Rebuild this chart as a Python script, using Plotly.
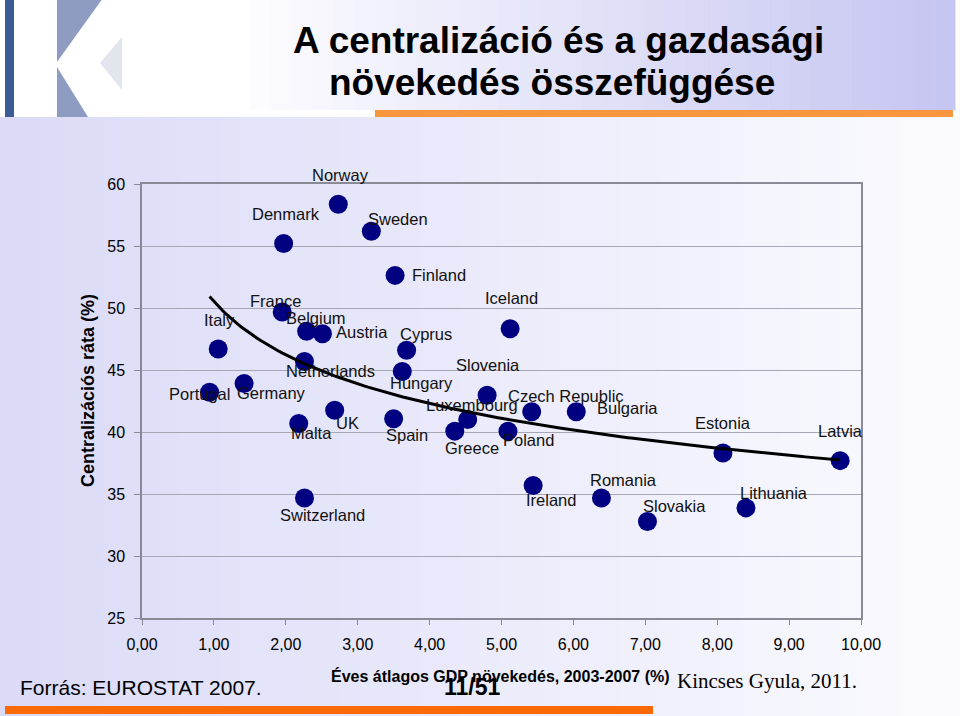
import numpy as np
import plotly.graph_objects as go

# ---------------- data ----------------
countries = ["Norway", "Denmark", "Sweden", "Finland", "France", "Belgium", "Austria",
             "Italy", "Cyprus", "Iceland", "Netherlands", "Hungary", "Slovenia", "Germany",
             "Portugal", "UK", "Malta", "Spain", "Luxembourg", "Greece", "Poland",
             "Switzerland", "Czech Republic", "Bulgaria", "Ireland", "Romania", "Slovakia",
             "Lithuania", "Estonia", "Latvia"]
gdp_growth = [2.73, 1.97, 3.19, 3.52, 1.95, 2.29, 2.51,
              1.06, 3.68, 5.12, 2.26, 3.62, 4.80, 1.42,
              0.94, 2.68, 2.18, 3.50, 4.53, 4.35, 5.09,
              2.26, 5.42, 6.04, 5.44, 6.39, 7.03,
              8.40, 8.08, 9.71]
centralization = [58.37, 55.20, 56.19, 52.63, 49.68, 48.12, 47.93,
                  46.70, 46.59, 48.33, 45.68, 44.88, 42.97, 43.91,
                  43.21, 41.76, 40.69, 41.07, 41.00, 40.07, 40.07,
                  34.68, 41.63, 41.63, 35.68, 34.68, 32.78,
                  33.88, 38.30, 37.69]

x_tick_vals = [0, 1, 2, 3, 4, 5, 6, 7, 8, 9, 10]
x_tick_text = ["0,00", "1,00", "2,00", "3,00", "4,00", "5,00", "6,00", "7,00", "8,00", "9,00", "10,00"]
y_tick_vals = [25, 30, 35, 40, 45, 50, 55, 60]

title_line1 = "A centralizáció és a gazdasági"
title_line2 = "növekedés összefüggése"
x_title = "Éves átlagos GDP növekedés, 2003-2007 (%)"
y_title = "Centralizációs ráta (%)"
source_text = "Forrás: EUROSTAT 2007."
page_text = "11/51"
author_text = "Kincses Gyula, 2011."

# label offsets in screen pixels (dx right, dy down) -- layout only
label_offsets = {
    "Norway": (2, -29), "Denmark": (2, -30), "Sweden": (27, -12), "Finland": (44, 0),
    "France": (-7, -11), "Belgium": (9, -13), "Austria": (40, -2), "Italy": (1, -29),
    "Cyprus": (19, -16), "Iceland": (1, -31), "Netherlands": (26, 9), "Hungary": (19, 12),
    "Slovenia": (1, -30), "Germany": (27, 9), "Portugal": (-10, 2), "UK": (13, 13),
    "Malta": (13, 10), "Spain": (13, 16), "Luxembourg": (4, -15), "Greece": (17, 17),
    "Poland": (21, 9), "Switzerland": (18, 17), "Czech Republic": (34, -16),
    "Bulgaria": (51, -4), "Ireland": (18, 14), "Romania": (22, -18), "Slovakia": (27, -16),
    "Lithuania": (28, -15), "Estonia": (0, -30), "Latvia": (0, -30),
}

# ---------------- geometry ----------------
W, H = 960, 716
L, R, T, B = 142, 99, 184, 98
PW, PH = W - L - R, H - T - B


def pxx(x):
    return (x - L) / PW


def pxy(y):
    return (H - B - y) / PH


def path(points):
    s = "M " + " L ".join(f"{pxx(a):.5f},{pxy(b):.5f}" for a, b in points) + " Z"
    return s


fig = go.Figure()

fig.add_trace(go.Scatter(
    x=gdp_growth, y=centralization, mode="markers",
    marker=dict(size=19, color="#000080"),
    hoverinfo="text", text=countries, showlegend=False,
))

# power trend line fitted to the data
gx = np.array(gdp_growth)
gy = np.array(centralization)
b_coef, ln_a = np.polyfit(np.log(gx), np.log(gy), 1)
xs = np.linspace(gx.min(), gx.max(), 200)
ys = np.exp(ln_a) * xs ** b_coef
fig.add_trace(go.Scatter(x=xs, y=ys, mode="lines", line=dict(color="black", width=3),
                         hoverinfo="skip", showlegend=False))

annotations = []
lab_font = dict(family="Liberation Sans, Arial, sans-serif", size=16.5, color="#111111")
for c, xv, yv in zip(countries, gdp_growth, centralization):
    dx, dy = label_offsets[c]
    annotations.append(dict(x=xv, y=yv, xref="x", yref="y", text=c, showarrow=False,
                            xshift=dx, yshift=-dy, font=lab_font,
                            xanchor="center", yanchor="middle"))

sans = "Liberation Sans, Arial, sans-serif"
annotations += [
    dict(x=pxx(558), y=pxy(40), xref="paper", yref="paper", text=f"<b>{title_line1}</b>",
         showarrow=False, font=dict(family=sans, size=37, color="black"),
         xanchor="center", yanchor="middle"),
    dict(x=pxx(552), y=pxy(83), xref="paper", yref="paper", text=f"<b>{title_line2}</b>",
         showarrow=False, font=dict(family=sans, size=37, color="black"),
         xanchor="center", yanchor="middle"),
    dict(x=pxx(500), y=pxy(676), xref="paper", yref="paper", text=f"<b>{x_title}</b>",
         showarrow=False, font=dict(family=sans, size=16, color="black"),
         xanchor="center", yanchor="middle"),
    dict(x=pxx(88), y=pxy(391), xref="paper", yref="paper", text=f"<b>{y_title}</b>",
         showarrow=False, textangle=-90, font=dict(family=sans, size=18, color="black"),
         xanchor="center", yanchor="middle"),
    dict(x=pxx(18), y=pxy(687), xref="paper", yref="paper", text=source_text,
         showarrow=False, font=dict(family=sans, size=21, color="black"),
         xanchor="left", yanchor="middle"),
    dict(x=pxx(472), y=pxy(687), xref="paper", yref="paper", text=f"<b>{page_text}</b>",
         showarrow=False, font=dict(family=sans, size=23, color="black"),
         xanchor="center", yanchor="middle"),
    dict(x=pxx(675), y=pxy(681), xref="paper", yref="paper", text=author_text,
         showarrow=False, font=dict(family="Liberation Serif, Times New Roman, serif", size=21,
                                    color="black"),
         xanchor="left", yanchor="middle"),
]

# ---------------- decorative background ----------------
shapes = []
N = 48
c0 = np.array([219, 219, 248])
c1 = np.array([251, 251, 255])
for i in range(N):
    t = i / (N - 1)
    col = (c0 + (c1 - c0) * t).astype(int)
    x0 = i * W / N
    x1 = (i + 1) * W / N + 0.5
    shapes.append(dict(type="rect", xref="paper", yref="paper", x0=pxx(x0), x1=pxx(x1),
                       y0=pxy(117), y1=pxy(H + 2), line=dict(width=0),
                       fillcolor=f"rgb({col[0]},{col[1]},{col[2]})", layer="below"))
# header gradient behind title
h0 = np.array([252, 252, 255])
h1 = np.array([198, 198, 242])
NH = 34
hx0, hx1 = 250, 955
for i in range(NH):
    t = i / (NH - 1)
    col = (h0 + (h1 - h0) * t).astype(int)
    x0 = hx0 + i * (hx1 - hx0) / NH
    x1 = hx0 + (i + 1) * (hx1 - hx0) / NH + 0.5
    shapes.append(dict(type="rect", xref="paper", yref="paper", x0=pxx(x0), x1=pxx(x1),
                       y0=pxy(110), y1=pxy(-2), line=dict(width=0),
                       fillcolor=f"rgb({col[0]},{col[1]},{col[2]})", layer="below"))
# orange rule under the title
shapes.append(dict(type="rect", xref="paper", yref="paper", x0=pxx(375), x1=pxx(953),
                   y0=pxy(117), y1=pxy(110), line=dict(width=0), fillcolor="#f7963c",
                   layer="below"))
# orange bar at bottom
shapes.append(dict(type="rect", xref="paper", yref="paper", x0=pxx(5), x1=pxx(653),
                   y0=pxy(714), y1=pxy(706), line=dict(width=0), fillcolor="#fa6a08",
                   layer="below"))
# logo
shapes.append(dict(type="rect", xref="paper", yref="paper", x0=pxx(5), x1=pxx(14),
                   y0=pxy(117), y1=pxy(-2), line=dict(width=0), fillcolor="#3d5c96",
                   layer="below"))
shapes.append(dict(type="path", xref="paper", yref="paper",
                   path=path([(57, -2), (103, -2), (57, 62)]), line=dict(width=0),
                   fillcolor="#8e9cc2", layer="below"))
shapes.append(dict(type="path", xref="paper", yref="paper",
                   path=path([(57, 67), (57, 117), (88, 117)]), line=dict(width=0),
                   fillcolor="#8e9cc2", layer="below"))
shapes.append(dict(type="path", xref="paper", yref="paper",
                   path=path([(100, 63), (122, 37), (122, 90)]), line=dict(width=0),
                   fillcolor="#e2e4ee", layer="below"))

fig.update_layout(
    width=W, height=H,
    margin=dict(l=L, r=R, t=T, b=B, pad=0),
    paper_bgcolor="white", plot_bgcolor="rgba(0,0,0,0)",
    font=dict(family=sans, color="black"),
    shapes=shapes, annotations=annotations, showlegend=False,
    xaxis=dict(range=[0, 10], tickvals=x_tick_vals, ticktext=x_tick_text,
               showgrid=False, zeroline=False, showline=True, mirror=True,
               linecolor="#8a8a96", linewidth=1.5, ticks="outside", ticklen=5,
               tickcolor="#8a8a96", tickfont=dict(size=16, color="black"),
               ticklabelstandoff=6),
    yaxis=dict(range=[25, 60], tickvals=y_tick_vals, showgrid=True,
               gridcolor="#a6a6b4", gridwidth=1, zeroline=False, showline=True,
               mirror=True, linecolor="#8a8a96", linewidth=1.5, ticks="outside",
               ticklen=6, tickcolor="#8a8a96", tickfont=dict(size=16, color="black"),
               ticklabelstandoff=6),
)

fig.write_html("out.html", config={"displayModeBar": False},
               post_script="document.body.style.margin='0px';document.body.style.overflow='hidden';")
